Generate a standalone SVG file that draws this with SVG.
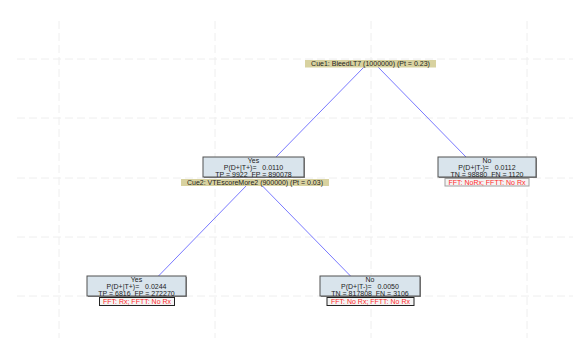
<svg xmlns="http://www.w3.org/2000/svg" width="573" height="350" viewBox="0 0 573 350">
<style>
text{font-family:"Liberation Sans",Arial,sans-serif;font-size:7px;text-anchor:middle;fill:#222}
.grid line{stroke:#eeeeee;stroke-width:1;stroke-dasharray:8 4}
.conn line{stroke:#6a6aff;stroke-width:0.9}
.box{fill:#d9e4ec;stroke:#505050;stroke-width:1}
.sh{fill:#8a8a8a}
.cue{fill:#d8d2a0}
.red{fill:#f4f4f4;stroke-width:1}
.rt{fill:#ff2a2a}
</style>
<rect width="573" height="350" fill="#fff"/>
<g class="grid">
<line x1="17" y1="59" x2="573" y2="59"/>
<line x1="17" y1="118" x2="573" y2="118"/>
<line x1="17" y1="178" x2="573" y2="178"/>
<line x1="17" y1="237" x2="573" y2="237"/>
<line x1="17" y1="296" x2="573" y2="296"/>
<line x1="59" y1="21" x2="59" y2="338"/>
<line x1="215" y1="21" x2="215" y2="338"/>
<line x1="371" y1="21" x2="371" y2="338"/>
<line x1="527" y1="21" x2="527" y2="338"/>
</g>
<g class="conn">
<line x1="364" y1="67" x2="276" y2="157"/>
<line x1="378" y1="67" x2="466" y2="157"/>
<line x1="247" y1="185" x2="158.5" y2="276"/>
<line x1="261.5" y1="185" x2="350.5" y2="276"/>
</g>
<g id="cue1">
<rect class="cue" x="305" y="60" width="131" height="7.5"/>
<text x="370.5" y="66.3">Cue1: BleedLT7 (1000000) (Pt = 0.23)</text>
</g>
<g id="yes1">
<rect class="sh" x="204" y="158" width="101" height="20"/>
<rect class="box" x="203" y="157" width="101" height="20"/>
<text x="253.5" y="163.3">Yes</text>
<text x="253.5" y="170.2" xml:space="preserve">P(D+|T+)=   0.0110</text>
<text x="253.5" y="176.9" xml:space="preserve">TP = 9922  FP = 890078</text>
</g>
<g id="cue2">
<rect class="cue" x="181" y="179" width="148" height="7"/>
<text x="255" y="185">Cue2: VTEscoreMore2 (900000) (Pt = 0.03)</text>
</g>
<g id="no1">
<rect class="sh" x="439" y="158" width="98" height="20"/>
<rect class="box" x="438" y="157" width="98" height="20"/>
<text x="487" y="163.3">No</text>
<text x="487" y="170.2" xml:space="preserve">P(D+|T-)=   0.0112</text>
<text x="487" y="176.9" xml:space="preserve">TN = 98880  FN = 1120</text>
<rect class="red" x="445" y="178.5" width="84" height="7.5" stroke="#a0a0a0"/>
<text class="rt" x="487" y="184.6">FFT: NoRx; FFTT: No Rx</text>
</g>
<g id="yes2">
<rect class="sh" x="88" y="277" width="99" height="20"/>
<rect class="box" x="87" y="276" width="99" height="20"/>
<text x="136.5" y="282.3">Yes</text>
<text x="136.5" y="289.2" xml:space="preserve">P(D+|T+)=   0.0244</text>
<text x="136.5" y="295.9" xml:space="preserve">TP = 6816  FP = 272270</text>
<rect class="red" x="99.5" y="297.5" width="75" height="8" stroke="#222"/>
<text class="rt" x="137" y="303.9">FFT: Rx; FFTT: No Rx</text>
</g>
<g id="no2">
<rect class="sh" x="321" y="277" width="100" height="20"/>
<rect class="box" x="320" y="276" width="100" height="20"/>
<text x="370" y="282.3">No</text>
<text x="370" y="289.2" xml:space="preserve">P(D+|T-)=   0.0050</text>
<text x="370" y="295.9" xml:space="preserve">TN = 817808  FN = 3106</text>
<rect class="red" x="327" y="297.5" width="87" height="8" stroke="#222"/>
<text class="rt" x="370.5" y="303.9">FFT: No Rx; FFTT: No Rx</text>
</g>
</svg>
